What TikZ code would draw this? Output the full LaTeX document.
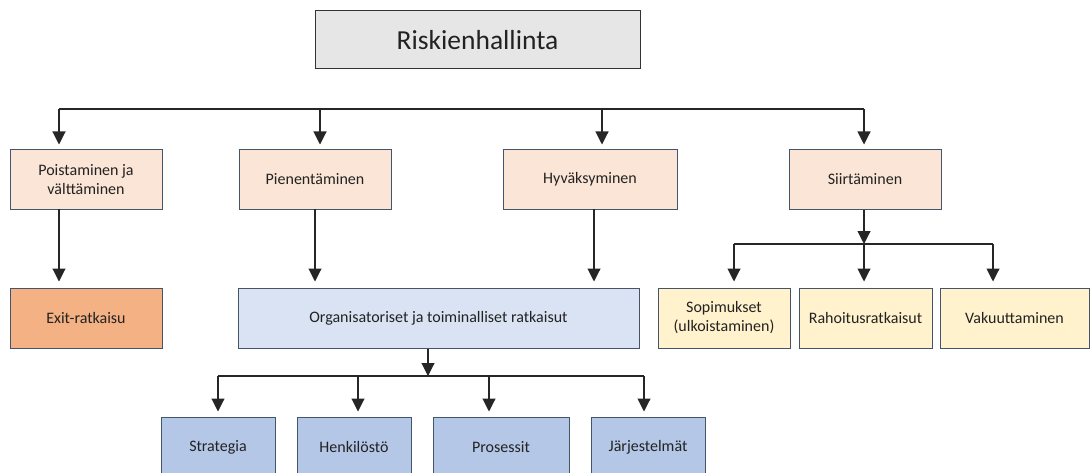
\documentclass[tikz,border=0pt]{standalone}
\usepackage{fontspec}
\setmainfont{Carlito}
\usetikzlibrary{arrows.meta}
\definecolor{graybox}{HTML}{E7E6E6}
\definecolor{peach}{HTML}{FBE5D6}
\definecolor{orangebox}{HTML}{F4B183}
\definecolor{paleblue}{HTML}{DAE3F3}
\definecolor{midblue}{HTML}{B4C7E7}
\definecolor{paleyellow}{HTML}{FFF2CC}
\definecolor{edgeblue}{HTML}{44546A}
\definecolor{txt}{HTML}{222222}
\tikzset{
  box/.style={draw=edgeblue, line width=1pt, text=txt, align=center,
    inner sep=0pt, font=\fontsize{16}{19}\selectfont},
  topbox/.style={draw=black!80, fill=graybox, line width=1pt, text=txt,
    font=\fontsize{27.5}{32}\selectfont, inner sep=0pt},
  link/.style={draw=black!85, line width=1.1pt},
  arr/.style={link, -{Triangle[width=13pt,length=13pt]}},
}
\begin{document}
\begin{tikzpicture}[x=1pt,y=-1pt]
\useasboundingbox (0,0) rectangle (1091,473);

% title
\node[topbox, minimum width=325pt, minimum height=58pt] (top) at (477.5,40) {Riskienhallinta};

% first level
\node[box, fill=peach, minimum width=152pt, minimum height=59pt] (poist) at (86,179.5) {Poistaminen ja\\välttäminen};
\node[box, fill=peach, minimum width=152pt, minimum height=59pt] (pien) at (315,179.5) {Pienentäminen};
\node[box, fill=peach, minimum width=174pt, minimum height=59pt] (hyv) at (590,179.5) {Hyväksyminen};
\node[box, fill=peach, minimum width=152pt, minimum height=59pt] (siirt) at (865,179.5) {Siirtäminen};

% second level
\node[box, fill=orangebox, minimum width=152pt, minimum height=60pt] (exit) at (86,318) {Exit-ratkaisu};
\node[box, fill=paleblue, minimum width=401pt, minimum height=60pt] (org) at (438.5,318) {Organisatoriset ja toiminalliset ratkaisut};
\node[box, fill=paleyellow, minimum width=132pt, minimum height=60pt] (sop) at (724,318) {Sopimukset\\(ulkoistaminen)};
\node[box, fill=paleyellow, minimum width=133pt, minimum height=60pt] (rah) at (865.5,318) {Rahoitusratkaisut};
\node[box, fill=paleyellow, minimum width=149pt, minimum height=60pt] (vak) at (1014.5,318) {Vakuuttaminen};

% third level
\node[box, fill=midblue, minimum width=114pt, minimum height=60pt] (strat) at (218,447) {Strategia};
\node[box, fill=midblue, minimum width=114pt, minimum height=60pt] (henk) at (354,447) {Henkilöstö};
\node[box, fill=midblue, minimum width=136pt, minimum height=60pt] (pros) at (501,447) {Prosessit};
\node[box, fill=midblue, minimum width=114pt, minimum height=60pt] (jarj) at (648,447) {Järjestelmät};

% main distribution line
\coordinate (m1) at (59,109);
\coordinate (m2) at (320,109);
\coordinate (m3) at (602,109);
\coordinate (m4) at (864,109);
\draw[link] (m1) -- (m4);
\draw[arr, shorten >=5pt] (m1) -- (m1 |- poist.north);
\draw[arr, shorten >=5pt] (m2) -- (m2 |- pien.north);
\draw[arr, shorten >=5pt] (m3) -- (m3 |- hyv.north);
\draw[arr, shorten >=5pt] (m4) -- (m4 |- siirt.north);

% first to second level
\coordinate (p1) at (59,209);
\coordinate (p2) at (315,209);
\coordinate (p3) at (594,209);
\draw[arr, shorten >=6pt] (p1) -- (p1 |- exit.north);
\draw[arr, shorten >=6pt] (p2) -- (p2 |- org.north);
\draw[arr, shorten >=6pt] (p3) -- (p3 |- org.north);

% transfer branch
\coordinate (s0) at (864,244);
\coordinate (s1) at (734,244);
\coordinate (s3) at (993,244);
\draw[arr] (siirt.south -| s0) -- (s0);
\draw[link] (s1) -- (s3);
\draw[arr, shorten >=6pt] (s1) -- (s1 |- sop.north);
\draw[arr, shorten >=6pt] (s0) -- (s0 |- rah.north);
\draw[arr, shorten >=6pt] (s3) -- (s3 |- vak.north);

% organisational branch
\coordinate (o0) at (428,376);
\coordinate (o1) at (218,376);
\coordinate (o2) at (358,376);
\coordinate (o3) at (489,376);
\coordinate (o4) at (644,376);
\draw[arr] (org.south -| o0) -- (o0);
\draw[link] (o1) -- (o4);
\draw[arr, shorten >=5pt] (o1) -- (o1 |- strat.north);
\draw[arr, shorten >=5pt] (o2) -- (o2 |- henk.north);
\draw[arr, shorten >=5pt] (o3) -- (o3 |- pros.north);
\draw[arr, shorten >=5pt] (o4) -- (o4 |- jarj.north);
\end{tikzpicture}
\end{document}
